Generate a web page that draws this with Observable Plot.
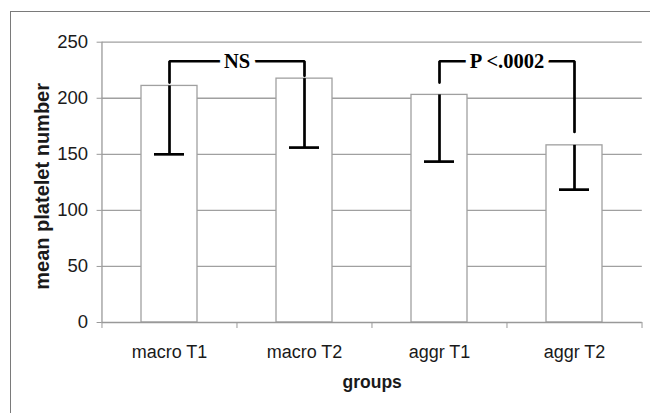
<!DOCTYPE html>
<html><head><meta charset="utf-8">
<script src="https://cdn.jsdelivr.net/npm/d3@7"></script>
<script src="https://cdn.jsdelivr.net/npm/@observablehq/plot@0.6"></script>
<style>
html,body{margin:0;padding:0;background:#fff;overflow:hidden;width:650px;height:413px}
#wrap{position:relative;width:650px;height:413px;overflow:hidden}
#chart{position:absolute;left:0;top:0}
#border{position:absolute;left:10px;top:11px;width:700px;height:500px;border:1.5px solid #7a7a7a;pointer-events:none}
</style></head><body>
<div id="wrap"><div id="chart"></div><div id="border"></div></div>
<script>
// ---- data ----
const categories = ["macro T1", "macro T2", "aggr T1", "aggr T2"];
const meanValues = [211, 217.5, 203, 158];
const lowerValues = [150, 156, 143.5, 118.5];
const yTicks = [0, 50, 100, 150, 200, 250];

const bracketFrom = ["macro T1", "aggr T1"];
const bracketTo = ["macro T2", "aggr T2"];
const bracketLabels = ["NS", "P <.0002"];
const bracketLevel = [233, 233];
const bracketLeftEnd = [214, 214];
const bracketRightEnd = [220, 170];

const xTitle = "groups";
const yTitle = "mean platelet number";

// ---- layout ----
const W = 650, H = 413, ML = 101.6, MR = 8.2, MT = 41.7, MB = 91;
const step = (W - ML - MR) / categories.length;

const rows = categories.map((c, i) => ({c, mean: meanValues[i], low: lowerValues[i]}));
const bracketPts = bracketFrom.flatMap((f, i) => [
  {k: i, x: f, y: bracketLeftEnd[i]},
  {k: i, x: f, y: bracketLevel[i]},
  {k: i, x: bracketTo[i], y: bracketLevel[i]},
  {k: i, x: bracketTo[i], y: bracketRightEnd[i]}
]);
const bracketText = bracketFrom.map((f, i) => ({x: f, y: bracketLevel[i], t: bracketLabels[i]}));

const sans = "'Liberation Sans', Arial, Helvetica, sans-serif";
const serif = "'Liberation Serif', 'Times New Roman', serif";
const gray = "#a0a0a0";

const chart = Plot.plot({
  width: W, height: H,
  marginLeft: ML, marginRight: MR, marginTop: MT, marginBottom: MB,
  style: {fontFamily: sans, fontSize: "18px", color: "#1a1a1a", background: "transparent"},
  x: {type: "band", domain: categories, paddingInner: 0.587, paddingOuter: 0.2935, label: null, axis: null},
  y: {domain: [0, 250], label: null, axis: null},
  marks: [
    Plot.gridY(yTicks.filter(v => v > 0), {stroke: gray, strokeOpacity: 1, strokeWidth: 1.3}),
    Plot.barY(rows, {x: "c", y: "mean", fill: "white", stroke: gray, strokeWidth: 1.3}),
    Plot.ruleY([0], {stroke: "#999", strokeWidth: 1.3}),
    Plot.ruleX([categories[0]], {x: d => d, y1: 0, y2: 250, dx: -step / 2, stroke: "#999", strokeWidth: 1.3}),
    Plot.axisY({ticks: yTicks, tickSize: 5, tickPadding: 9, stroke: "#999", fill: "#1a1a1a", fontSize: 18.5, label: null}),
    Plot.axisX({tickSize: 0, tickPadding: 23, fill: "#1a1a1a", fontSize: 18, label: null}),
    Plot.axisX({tickSize: 6, tickFormat: () => "", dx: -step / 2, stroke: "#999", label: null}),
    Plot.axisX([categories[categories.length - 1]], {tickSize: 6, tickFormat: () => "", dx: step / 2, stroke: "#999", label: null}),
    Plot.ruleX(rows, {x: "c", y1: "mean", y2: "low", stroke: "#000", strokeWidth: 2.7}),
    Plot.tickY(rows, {x: "c", y: "low", stroke: "#000", strokeWidth: 2.7, insetLeft: 13, insetRight: 13}),
    Plot.line(bracketPts, {x: "x", y: "y", z: "k", stroke: "#000", strokeWidth: 2.7, strokeLinejoin: "miter", curve: "linear"}),
    Plot.text(bracketText, {x: "x", y: "y", text: "t", dx: step / 2, fontFamily: serif, fontWeight: "bold", fontSize: 20.5,
      fill: "#000", stroke: "white", strokeWidth: 12, paintOrder: "stroke"}),
    Plot.text([xTitle], {frameAnchor: "bottom", dy: 65.6, fontWeight: "bold", fontSize: 17.5, fill: "#1a1a1a"}),
    Plot.text([yTitle], {frameAnchor: "left", textAnchor: "middle", rotate: -90, dx: -59.2, dy: 4, fontWeight: "bold", fontSize: 20, fill: "#1a1a1a"})
  ]
});
document.getElementById("chart").appendChild(chart);
</script>
</body></html>
